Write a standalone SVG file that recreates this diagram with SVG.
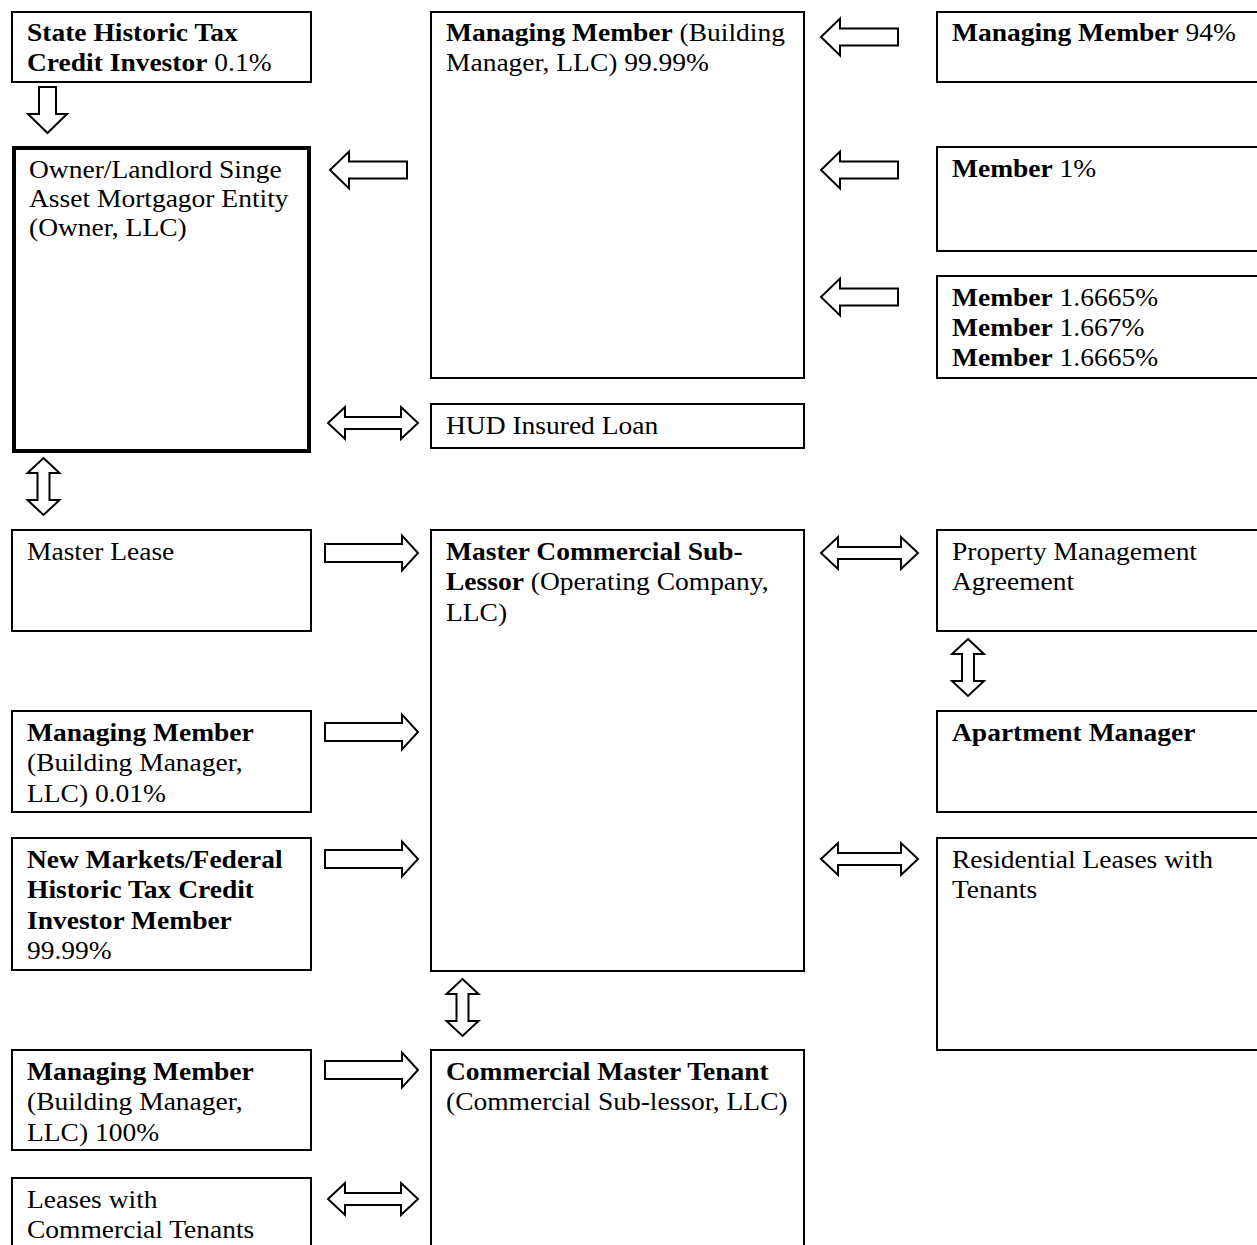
<svg xmlns="http://www.w3.org/2000/svg" width="1257" height="1245" viewBox="0 0 1257 1245">
<style>
.box{fill:#fff;stroke:#000;stroke-width:2}
.thick{fill:#fff;stroke:#000;stroke-width:4}
.arr{fill:#fff;stroke:#000;stroke-width:2;stroke-linejoin:miter}
text{font-family:"Liberation Serif","Times New Roman",serif;font-size:25px;fill:#000}
.b{font-weight:bold}
</style>
<defs>
<polygon id="la" points="0,0 19,-18.5 19,-8.5 77,-8.5 77,8.5 19,8.5 19,18.5"/>
<polygon id="ra" points="0,-9 77,-9 77,-17.5 93,0 77,17.5 77,9 0,9"/>
<polygon id="dh" points="0,0 17,-16 17,-6 73,-6 73,-16 90,0 73,16 73,6 17,6 17,16"/>
<polygon id="dh2" points="0,0 17,-16 17,-6 80,-6 80,-16 97,0 80,16 80,6 17,6 17,16"/>
<polygon id="dv" points="0,0 16,15 6,15 6,42 16,42 0,57 -16,42 -6,42 -6,15 -16,15"/>
</defs>
<rect width="1257" height="1245" fill="#fff"/>
<g id="connectors">
<polygon class="arr" points="39,87 56,87 56,114 67,114 47.5,133 28,114 39,114"/>
<use href="#la" class="arr" x="821" y="37"/>
<use href="#la" class="arr" x="330" y="170"/>
<use href="#la" class="arr" x="821" y="170"/>
<use href="#la" class="arr" x="821" y="297"/>
<use href="#dh" class="arr" x="328" y="423"/>
<use href="#dv" class="arr" x="43.5" y="458"/>
<use href="#ra" class="arr" x="325" y="553"/>
<use href="#dh2" class="arr" x="821" y="553"/>
<use href="#dv" class="arr" x="968" y="639"/>
<use href="#ra" class="arr" x="325" y="732"/>
<use href="#ra" class="arr" x="325" y="859"/>
<use href="#dh2" class="arr" x="821" y="859"/>
<use href="#dv" class="arr" x="462.5" y="979"/>
<use href="#ra" class="arr" x="325" y="1070"/>
<use href="#dh" class="arr" x="328" y="1199"/>
</g>
<g id="state-historic">
<rect class="box" x="12" y="12" width="299" height="70"/>
<g transform="translate(27 0) scale(1.1 1)">
<text x="0" y="41" class="b">State Historic Tax</text>
<text x="0" y="71.5"><tspan class="b">Credit Investor</tspan> 0.1%</text>
</g>
</g>
<g id="owner">
<rect class="thick" x="14" y="148" width="295" height="303"/>
<g transform="translate(29 0) scale(1.1 1)">
<text x="0" y="178">Owner/Landlord Singe</text>
<text x="0" y="207">Asset Mortgagor Entity</text>
<text x="0" y="236">(Owner, LLC)</text>
</g>
</g>
<g id="managing-member-top">
<rect class="box" x="431" y="12" width="373" height="366"/>
<g transform="translate(446 0) scale(1.1 1)">
<text x="0" y="41"><tspan class="b">Managing Member</tspan> (Building</text>
<text x="0" y="71.5">Manager, LLC) 99.99%</text>
</g>
</g>
<g id="mm-94">
<rect class="box" x="937" y="12" width="330" height="70"/>
<g transform="translate(952 0) scale(1.1 1)">
<text x="0" y="41"><tspan class="b">Managing Member</tspan> 94%</text>
</g>
</g>
<g id="member-1">
<rect class="box" x="937" y="147" width="330" height="104"/>
<g transform="translate(952 0) scale(1.1 1)">
<text x="0" y="177"><tspan class="b">Member</tspan> 1%</text>
</g>
</g>
<g id="members-3">
<rect class="box" x="937" y="276" width="330" height="102"/>
<g transform="translate(952 0) scale(1.1 1)">
<text x="0" y="306"><tspan class="b">Member</tspan> 1.6665%</text>
<text x="0" y="336"><tspan class="b">Member</tspan> 1.667%</text>
<text x="0" y="366"><tspan class="b">Member</tspan> 1.6665%</text>
</g>
</g>
<g id="hud">
<rect class="box" x="431" y="404" width="373" height="44"/>
<g transform="translate(446 0) scale(1.1 1)">
<text x="0" y="434">HUD Insured Loan</text>
</g>
</g>
<g id="master-lease">
<rect class="box" x="12" y="530" width="299" height="101"/>
<g transform="translate(27 0) scale(1.1 1)">
<text x="0" y="560">Master Lease</text>
</g>
</g>
<g id="master-sublessor">
<rect class="box" x="431" y="530" width="373" height="441"/>
<g transform="translate(446 0) scale(1.1 1)">
<text x="0" y="560" class="b">Master Commercial Sub-</text>
<text x="0" y="590.5"><tspan class="b">Lessor</tspan> (Operating Company,</text>
<text x="0" y="621">LLC)</text>
</g>
</g>
<g id="pma">
<rect class="box" x="937" y="530" width="330" height="101"/>
<g transform="translate(952 0) scale(1.1 1)">
<text x="0" y="560">Property Management</text>
<text x="0" y="590.5">Agreement</text>
</g>
</g>
<g id="apartment-manager">
<rect class="box" x="937" y="711" width="330" height="101"/>
<g transform="translate(952 0) scale(1.1 1)">
<text x="0" y="741" class="b">Apartment Manager</text>
</g>
</g>
<g id="mm-001">
<rect class="box" x="12" y="711" width="299" height="101"/>
<g transform="translate(27 0) scale(1.1 1)">
<text x="0" y="741" class="b">Managing Member</text>
<text x="0" y="771.5">(Building Manager,</text>
<text x="0" y="802">LLC) 0.01%</text>
</g>
</g>
<g id="new-markets">
<rect class="box" x="12" y="838" width="299" height="132"/>
<g transform="translate(27 0) scale(1.1 1)">
<text x="0" y="868" class="b">New Markets/Federal</text>
<text x="0" y="898.5" class="b">Historic Tax Credit</text>
<text x="0" y="929" class="b">Investor Member</text>
<text x="0" y="959.5">99.99%</text>
</g>
</g>
<g id="residential-leases">
<rect class="box" x="937" y="838" width="330" height="212"/>
<g transform="translate(952 0) scale(1.1 1)">
<text x="0" y="868">Residential Leases with</text>
<text x="0" y="898.5">Tenants</text>
</g>
</g>
<g id="mm-100">
<rect class="box" x="12" y="1050" width="299" height="100"/>
<g transform="translate(27 0) scale(1.1 1)">
<text x="0" y="1080" class="b">Managing Member</text>
<text x="0" y="1110.5">(Building Manager,</text>
<text x="0" y="1141">LLC) 100%</text>
</g>
</g>
<g id="commercial-master-tenant">
<rect class="box" x="431" y="1050" width="373" height="210"/>
<g transform="translate(446 0) scale(1.1 1)">
<text x="0" y="1080" class="b">Commercial Master Tenant</text>
<text x="0" y="1110.5">(Commercial Sub-lessor, LLC)</text>
</g>
</g>
<g id="commercial-leases">
<rect class="box" x="12" y="1178" width="299" height="80"/>
<g transform="translate(27 0) scale(1.1 1)">
<text x="0" y="1208">Leases with</text>
<text x="0" y="1238.5">Commercial Tenants</text>
</g>
</g>
</svg>
